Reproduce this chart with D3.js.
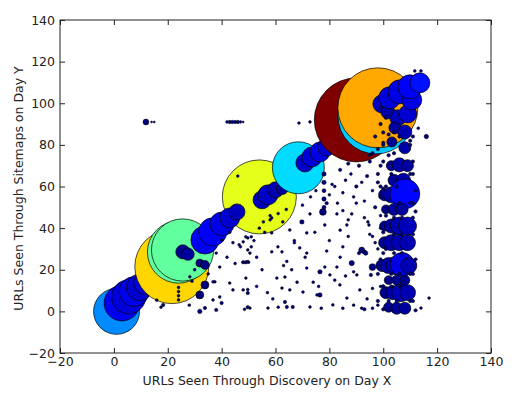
<!DOCTYPE html>
<html>
<head>
<meta charset="utf-8">
<script src="https://cdn.jsdelivr.net/npm/d3@7"></script>
<style>
body { margin: 0; background: #fff; }
text { font-family: "DejaVu Sans", sans-serif; }
</style>
</head>
<body>
<div id="chart"></div>
<script>
// tick values
var xTicks = [-20, 0, 20, 40, 60, 80, 100, 120, 140];
var yTicks = [-20, 0, 20, 40, 60, 80, 100, 120, 140];

// bubbles (drawn in this order): x, y, size (area units), colour value on jet map
var bubbleX = [1,
  3, 5.5, 7.5, 9.5, 11.5,
  21.5, 24, 25.5,
  25.6, 27.5, 31.9, 33.8, 33.8, 31.9,
  54,
  33.8, 36.7, 40.1, 43, 45.7,
  55, 57.2, 60, 62.5,
  68.5,
  70.9, 73.5, 76.5, 79, 81,
  90, 97.3, 98,
  99.5, 101.7, 105.4, 109.1, 104.3, 108, 103.2, 108, 102.4, 106.2, 110.6, 109.9, 113.6,
  103, 106, 109, 104, 107.5, 100.5, 103, 108,
  100.5, 103, 106, 109, 100.5, 103, 106, 109,
  99.5, 102, 104.5, 107, 109.5, 101, 103.5, 106.5, 109,
  102, 105, 108, 101, 104, 107, 102, 105, 108];
var bubbleY = [0,
  4, 7, 9.5, 11.5, 13.5,
  21.5, 28.5, 29.5,
  28.6, 27.5, 23.2, 22.3, 12.7, 7.9,
  55,
  34.3, 38.2, 42, 44.9, 47.8,
  53.6, 56, 58.4, 59,
  69,
  71.3, 74.2, 76.6, 79, 81,
  92, 93.9, 97.8,
  99.7, 95.9, 93, 94.9, 88.2, 86.2, 81.4, 78.6, 102.6, 105.5, 101.6, 107.9, 109.8,
  70, 70.4, 70, 63, 63, 56, 56, 56.5,
  41, 41, 41, 41, 33, 33, 33, 33,
  22, 22, 22, 22.5, 22, 9, 9, 9, 9,
  2, 1.5, 1.5, 49, 49, 49, 15, 15, 15];
var bubbleSize = [546,
  330, 300, 230, 180, 130,
  1414, 1000, 1000,
  51, 40, 16, 20, 16, 16,
  1414,
  203, 203, 149, 103, 66,
  84, 103, 66, 37,
  698,
  84, 103, 103, 84, 51,
  1822, 1492, 1653,
  84, 51, 66, 84, 37, 51, 26, 37, 125, 149, 103, 149, 103,
  26, 51, 37, 37, 51, 37, 66, 232,
  26, 51, 84, 84, 37, 66, 66, 66,
  37, 66, 84, 149, 66, 37, 51, 84, 66,
  26, 37, 37, 20, 37, 37, 20, 26, 26];
var bubbleColor = [0.26,
  0.11, 0.09, 0.11, 0.08, 0.09,
  0.665, 0.47, 0.47,
  0.02, 0.03, 0.01, 0.01, 0, 0,
  0.6,
  0.11, 0.12, 0.1, 0.08, 0.06,
  0.06, 0.07, 0.05, 0.03,
  0.34,
  0.07, 0.09, 0.1, 0.08, 0.05,
  1.0, 0.32, 0.71,
  0.07, 0.04, 0.06, 0.08, 0.03, 0.05, 0.02, 0.04, 0.09, 0.1, 0.1, 0.12, 0.14,
  0.02, 0.04, 0.03, 0.03, 0.04, 0.02, 0.04, 0.13,
  0.02, 0.03, 0.05, 0.06, 0.02, 0.04, 0.05, 0.05,
  0.02, 0.04, 0.06, 0.1, 0.05, 0.02, 0.04, 0.06, 0.05,
  0.02, 0.03, 0.03, 0.01, 0.03, 0.03, 0.01, 0.02, 0.02];

// small dots (all at the bottom of the colour map)
var dotX = [11.9, 14, 15, 42, 43, 44, 45, 46, 47, 48, 68.7, 72.8,
  111.7, 114, 116, 117, 114,
  15.9, 18.3, 17.5, 24, 24, 24, 24, 28.2, 29, 36.8, 38, 40, 36.8, 33.8, 31.9, 43, 45, 48, 49, 50,
  49, 49.7, 49.7, 49.7, 48.5, 39.3, 40, 44.2, 49.7, 49.7, 51, 48, 39.3, 35, 30, 38, 42, 28,
  43, 48, 49, 51, 50.5, 49.7, 58.6, 62.4, 64.2, 63.5, 60.9, 69, 71.6, 71.6, 66, 60.5, 62.4, 65.3,
  70.2, 75.4, 76.5, 78.3, 76.5, 80.2, 82.8, 82, 83.9, 88.3, 90.2, 91.3, 86.5, 81.3, 72.8, 66.4,
  64.2, 63.5, 57.2, 50.5, 44.2, 37.5, 69.8, 72.8, 78.3, 82.8, 85, 86.5, 88.3, 94.3, 92, 93,
  56, 58.6, 71.6, 74.6, 62.7, 58.6, 55.5, 65.3, 94.7, 91, 96, 95.4, 93.5, 59, 53, 55, 68, 74,
  79, 85, 87, 80, 76, 89, 94, 96, 98, 97, 95, 84, 53, 67, 57, 61, 77, 85, 92, 96,
  78, 78, 78, 78, 78, 77.6, 79,
  84, 86, 88, 90, 92, 94, 96, 98, 85, 89, 93, 97, 83, 80, 82, 87, 91, 95, 99, 98, 99, 99, 99,
  99, 98, 99, 98, 99, 98, 93, 96, 98, 100, 97, 100, 99, 101, 99, 95,
  100, 102, 104, 106, 110, 111, 110, 104, 102, 111, 100, 103, 110, 111, 101, 105, 100, 106,
  111, 110, 101, 104, 107, 111, 100, 104, 107, 111, 101, 104, 107, 100, 103, 106, 110, 111,
  100, 103, 106, 100, 102, 105, 110, 111, 100, 103, 112, 112, 112, 112, 113,
  46, 47, 46.5, 52, 54, 58, 61, 64, 70, 73, 75, 81, 84, 87, 90, 93, 96, 58, 63, 67, 71, 86, 89];
var dotY = [91, 91, 91, 91, 91, 91, 91, 91, 91, 91, 90.5, 91,
  115.5, 115.5, 84, 6.4, 1.6,
  5.4, 3.1, 2, 5.5, 7.5, 9.5, 11.5, 16.6, 14.5, 14.2, 0.7, 4, 5.5, 1.6, 0, 13.6, 23, 23.6, 23.6, 23.6,
  16, 8.8, 10.5, 2, 1, 21.3, 34.3, 33, 35.3, 29.5, 31, 10.3, 6.9, 18, 20, 28, 26, 3,
  38, 33.4, 35.8, 35.8, 28, 23.9, 28.6, 28.6, 24, 16.5, 31, 30.5, 28, 20.8, 20, 16, 11.2, 10.3,
  9.3, 7.9, 7.9, 21.3, 19, 17.5, 21.3, 15, 12.7, 23.2, 17.5, 10.3, 6.4, 3.1, 2.1, 2.1,
  2.1, 4.5, 1.6, 1.6, 10.3, 14.2, 43, 46.8, 41.5, 46.8, 48.4, 41.5, 46.8, 43, 29.5, 28.5,
  38, 37.7, 37.7, 38, 43, 44.9, 43, 39.1, 41.5, 28, 21.3, 17.5, 28, 6, 12, 20, 14, 14,
  29, 31, 36, 34, 12, 3, 6, 11, 3, 33, 37, 26, 26, 33, 9, 2, 1.5, 1.5, 1.5, 1.5,
  66, 62, 58, 54, 50, 47.8, 52,
  68, 63, 66, 60, 62, 65, 58, 62, 57, 55, 53, 50, 52, 56, 60, 71, 70, 72, 70, 66, 60, 55, 46,
  40, 30, 25, 18, 12, 5, 1, 76, 78, 80, 84, 86, 90, 93, 98, 75, 81,
  85, 86, 84, 82, 84, 80, 76, 75, 72, 72, 66, 66, 66, 60, 60, 59, 52, 52,
  52, 46, 45, 45, 45, 38, 37, 37, 37, 30, 28, 28, 28, 18, 18, 18, 18, 12,
  12, 12, 12, 5, 5, 5, 5, 1, 1, 0.5, 25, 48, 58, 88, 65,
  31, 32, 34, 40, 46, 47, 49, 51, 55, 58, 61, 39, 44, 52, 45, 36, 44, 22, 34, 26, 17, 19, 13];
var dotSize = [9, 1, 1, 2, 3, 3, 3, 3, 2, 1, 2, 2,
  2, 2, 5, 2, 2,
  2, 3, 2, 2, 2, 2, 2, 2, 2, 2, 3, 3, 2, 3, 5, 2, 2, 3, 3, 2,
  2, 3, 2, 3, 2, 2, 2, 2, 2, 2, 2, 2, 2, 2, 2, 2, 2, 2,
  2, 2, 2, 2, 2, 2, 2, 2, 2, 2, 2, 2, 2, 2, 2, 2, 2, 2,
  2, 2, 5, 2, 5, 2, 2, 2, 2, 7, 2, 2, 2, 2, 2, 3,
  3, 3, 2, 2, 2, 2, 5, 2, 2, 2, 2, 2, 2, 2, 9, 5,
  2, 2, 2, 2, 2, 2, 2, 2, 2, 3, 12, 3, 5, 2, 2, 2, 2, 2,
  2, 2, 2, 2, 2, 2, 2, 2, 2, 2, 2, 2, 2, 2, 2, 2, 2, 2, 2, 2,
  5, 5, 4, 5, 4, 12, 3,
  3, 2, 2, 3, 2, 3, 2, 3, 2, 2, 2, 3, 2, 2, 2, 3, 3, 3, 3, 3, 3, 3, 2,
  2, 2, 3, 3, 2, 3, 3, 3, 3, 3, 3, 3, 3, 3, 3, 2,
  3, 3, 3, 3, 3, 3, 3, 3, 3, 3, 3, 3, 3, 3, 3, 3, 3, 3,
  3, 3, 3, 3, 3, 3, 3, 3, 3, 3, 3, 3, 3, 3, 3, 3, 3, 3,
  3, 3, 3, 3, 3, 3, 3, 3, 3, 3, 3, 3, 3, 2, 2,
  2, 2, 2, 2, 2, 2, 2, 2, 2, 2, 2, 2, 2, 2, 2, 2, 2, 2, 2, 2, 2, 2, 2];

var bubbles = bubbleX.map(function(d, i) {
    return {x: d, y: bubbleY[i], s: bubbleSize[i], c: bubbleColor[i]};
});
var dots = dotX.map(function(d, i) {
    return {x: d, y: dotY[i], s: dotSize[i], c: 0};
});

// set the dimensions and margins of the graph
var margin = {top: 20, right: 21, bottom: 40, left: 60},
    width = 512 - margin.left - margin.right,
    height = 393 - margin.top - margin.bottom;

var x = d3.scaleLinear().domain([-20, 140]).range([0, width]);
var y = d3.scaleLinear().domain([-20, 140]).range([height, 0]);
var r = d3.scaleSqrt().domain([0, 2000]).range([0, 44]);
// jet colour map
var jet = d3.scaleLinear()
    .domain([0, 0.125, 0.375, 0.625, 0.875, 1])
    .range(["#00007f", "#0000ff", "#00ffff", "#ffff00", "#ff0000", "#7f0000"]);

var svg = d3.select("#chart").append("svg")
    .attr("width", 512)
    .attr("height", 393)
    .append("g")
    .attr("transform", "translate(" + margin.left + "," + margin.top + ")");

svg.append("clipPath").attr("id", "clip")
    .append("rect").attr("width", width).attr("height", height);

var plot = svg.append("g").attr("clip-path", "url(#clip)");

plot.selectAll(".bubble")
    .data(bubbles)
    .enter().append("circle")
    .attr("class", "bubble")
    .attr("cx", function(d) { return x(d.x); })
    .attr("cy", function(d) { return y(d.y); })
    .attr("r", function(d) { return r(d.s); })
    .style("fill", function(d) { return jet(d.c); })
    .style("stroke", "#000")
    .style("stroke-width", 0.7);

plot.selectAll(".dot")
    .data(dots)
    .enter().append("circle")
    .attr("class", "dot")
    .attr("cx", function(d) { return x(d.x); })
    .attr("cy", function(d) { return y(d.y); })
    .attr("r", function(d) { return r(d.s); })
    .style("fill", function(d) { return jet(d.c); })
    .style("stroke", "#000")
    .style("stroke-width", 0.5);

// axes, ticks pointing inwards on all four sides
function styleAxis(g) {
    g.select(".domain").remove();
    g.selectAll("line").attr("stroke", "#222");
    g.selectAll("text").attr("fill", "#222").style("font-size", "12.5px");
}
svg.append("g")
    .attr("transform", "translate(0," + height + ")")
    .call(d3.axisBottom(x).tickValues(xTicks).tickSize(-5).tickPadding(4))
    .call(styleAxis);
svg.append("g")
    .call(d3.axisTop(x).tickValues(xTicks).tickSize(-5).tickFormat(""))
    .call(styleAxis);
svg.append("g")
    .call(d3.axisLeft(y).tickValues(yTicks).tickSize(-5).tickPadding(5))
    .call(styleAxis);
svg.append("g")
    .attr("transform", "translate(" + width + ",0)")
    .call(d3.axisRight(y).tickValues(yTicks).tickSize(-5).tickFormat(""))
    .call(styleAxis);

svg.append("rect")
    .attr("width", width)
    .attr("height", height)
    .style("fill", "none")
    .style("stroke", "#222")
    .style("stroke-width", 1);

// X-Axis Label
svg.append("text")
    .attr("x", 207)
    .attr("y", height + 32)
    .attr("text-anchor", "middle")
    .style("font-size", "12.5px")
    .style("fill", "#222")
    .text("URLs Seen Through Discovery on Day X");

// Y-Axis Label
svg.append("text")
    .attr("transform", "rotate(-90)")
    .attr("x", -(height / 2) - 2)
    .attr("y", 23 - margin.left)
    .attr("text-anchor", "middle")
    .style("font-size", "12.5px")
    .style("fill", "#222")
    .text("URLs Seen Through Sitemaps on Day Y");
</script>
</body>
</html>
